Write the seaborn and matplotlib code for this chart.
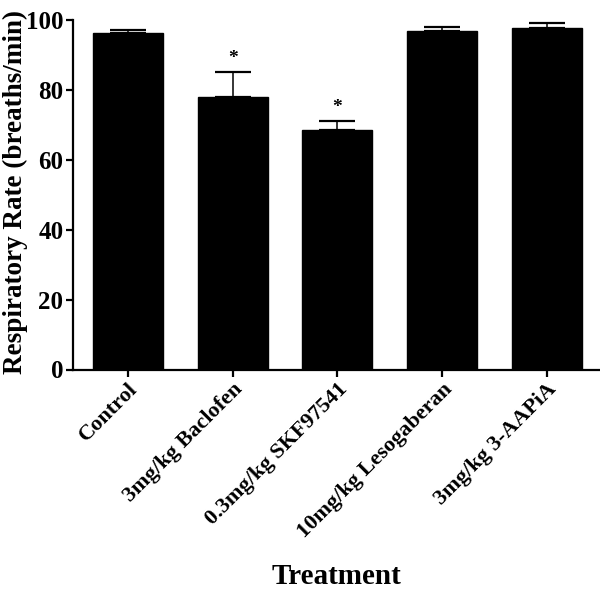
import matplotlib
matplotlib.use("Agg")
import matplotlib.pyplot as plt
import seaborn as sns
import pandas as pd

categories = ["Control", "3mg/kg Baclofen", "0.3mg/kg SKF97541",
              "10mg/kg Lesogaberan", "3mg/kg 3-AAPiA"]
means = [96.2, 78.1, 68.6, 96.9, 97.7]
sems = [0.9, 7.1, 2.6, 1.1, 1.4]
significant = ["", "*", "*", "", ""]
yticks = [0, 20, 40, 60, 80, 100]

sns.set_theme(style="ticks")
plt.rcParams["font.family"] = ["Liberation Serif", "DejaVu Serif"]
plt.rcParams["font.weight"] = "bold"
plt.rcParams["text.color"] = "black"
plt.rcParams["xtick.color"] = "black"
plt.rcParams["ytick.color"] = "black"
plt.rcParams["axes.labelcolor"] = "black"

df = pd.DataFrame({"Treatment": categories, "Rate": means})

fig = plt.figure(figsize=(6, 5.91), dpi=100)
ax = fig.add_axes([73 / 600, 1 - 369.5 / 591, 1 - 73 / 600, (369.5 - 20) / 591])

sns.barplot(data=df, x="Treatment", y="Rate", color="black", width=0.67,
            edgecolor="black", errorbar=None, ax=ax, zorder=2)
ax.errorbar(range(len(categories)), means,
            yerr=[[0] * len(sems), sems], fmt="none", ecolor="black",
            elinewidth=1.1, capsize=13.3, capthick=1.6, zorder=1)

for i, (m, s, sig) in enumerate(zip(means, sems, significant)):
    if sig:
        ax.text(i, m + s + 3.8, sig, ha="center", va="center",
                fontsize=14, fontweight="bold", color="black")

ax.set_ylim(0, 100)
ax.set_xlim(-0.525, 4.51)
ax.set_yticks(yticks)
ax.set_yticklabels([str(t) for t in yticks], fontsize=18, fontweight="bold")
ax.set_xticks(range(len(categories)))
ax.set_xticklabels(categories, rotation=45, ha="right", rotation_mode="anchor",
                   fontsize=16, fontweight="bold")
ax.set_ylabel("Respiratory Rate (breaths/min)", fontsize=19.5, fontweight="bold")
ax.yaxis.set_label_coords(-(73 - 15) / 527, (369.5 - 192) / 349.5)
ax.yaxis.label.set_va("center")
ax.set_xlabel("Treatment", fontsize=21, fontweight="bold")
ax.xaxis.set_label_coords(0.5, -(577 - 369.5) / 349.5)
ax.xaxis.label.set_va("center")

sns.despine(ax=ax)
for sp in ["left", "bottom"]:
    ax.spines[sp].set_linewidth(1.6)
    ax.spines[sp].set_color("black")
ax.tick_params(axis="both", direction="out", length=5, width=1.6,
               color="black", labelcolor="black", pad=2)
ax.set_facecolor("white")

fig.savefig("out.png", dpi=100, facecolor="white")
